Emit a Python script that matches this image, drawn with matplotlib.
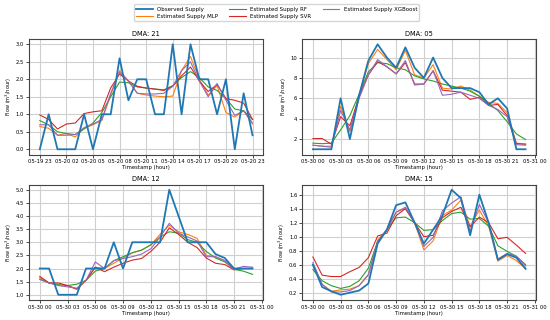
import matplotlib
matplotlib.use("Agg")
import matplotlib.pyplot as plt
import matplotlib.dates as mdates
import pandas as pd

series_names = ["Observed Supply", "Estimated Supply MLP", "Estimated Supply RF",
                "Estimated Supply SVR", "Estimated Supply XGBoost"]
colors = ["#1f77b4", "#ff7f0e", "#2ca02c", "#d62728", "#9467bd"]

# DMA 21 (05-19 23 .. 05-20 23)
dma21_obs = [0, 1.0, 0, 0, 0, 1.0, 0, 1.0, 1.0, 2.6, 1.4, 2.0, 2.0, 1.0, 1.0, 3.0, 1.0, 3.0, 2.0, 2.0, 1.0, 2.0, 0.0, 1.6, 0.4]
dma21_mlp = [0.65, 0.6, 0.4, 0.45, 0.35, 0.6, 0.7, 0.82, 1.55, 2.25, 1.95, 1.6, 1.55, 1.52, 1.5, 1.52, 2.25, 2.65, 2.0, 1.55, 1.82, 1.05, 0.92, 1.1, 0.72]
dma21_rf = [0.82, 0.7, 0.5, 0.45, 0.42, 0.58, 0.75, 1.05, 1.5, 1.92, 1.9, 1.78, 1.75, 1.72, 1.7, 1.82, 2.05, 2.22, 2.05, 1.78, 1.68, 1.45, 1.15, 1.1, 0.85]
dma21_svr = [0.98, 0.85, 0.58, 0.72, 0.75, 1.02, 1.07, 1.1, 1.75, 2.15, 1.95, 1.8, 1.75, 1.72, 1.68, 1.8, 2.1, 2.35, 1.95, 1.65, 1.85, 1.45, 1.4, 1.32, 0.85]
dma21_xgb = [0.7, 0.7, 0.4, 0.4, 0.42, 0.62, 0.72, 0.85, 1.6, 2.2, 1.95, 1.6, 1.58, 1.58, 1.6, 1.8, 2.25, 2.5, 1.95, 1.5, 1.88, 1.4, 0.97, 1.1, 0.75]

# DMA 05 (05-30 00 .. 05-30 23)
dma05_obs = [1.0, 1.0, 1.0, 6.0, 2.0, 6.3, 9.7, 11.3, 10.0, 9.0, 11.0, 9.0, 8.0, 10.0, 8.0, 7.0, 7.0, 7.0, 6.6, 5.4, 6.0, 5.0, 1.0, 1.0]
dma05_mlp = [1.4, 1.3, 1.3, 5.2, 2.7, 6.3, 9.4, 10.8, 9.8, 8.8, 10.7, 8.3, 8.0, 9.3, 7.0, 6.9, 7.2, 6.8, 6.2, 5.6, 5.5, 4.6, 1.6, 1.5]
dma05_rf = [1.6, 1.55, 1.6, 2.9, 4.3, 6.4, 8.6, 9.5, 9.4, 9.0, 8.8, 8.2, 7.9, 7.7, 7.4, 7.2, 7.0, 6.7, 6.2, 5.5, 4.8, 3.7, 2.5, 1.95]
dma05_svr = [2.05, 2.05, 1.5, 4.2, 3.3, 6.2, 8.3, 9.6, 9.1, 8.4, 9.5, 7.4, 7.4, 8.7, 6.8, 6.7, 6.6, 5.9, 6.1, 5.3, 5.4, 4.3, 1.55, 1.5]
dma05_xgb = [1.4, 1.3, 1.2, 4.8, 2.9, 6.0, 8.3, 9.8, 9.1, 8.4, 9.7, 7.3, 7.4, 8.7, 6.3, 6.4, 6.6, 6.3, 6.0, 5.3, 4.9, 4.2, 1.45, 1.4]

# DMA 12
dma12_obs = [2.0, 2.0, 1.0, 1.0, 1.0, 2.0, 2.0, 2.0, 3.0, 2.0, 3.0, 3.0, 3.0, 3.0, 5.0, 4.0, 3.0, 3.0, 3.0, 2.55, 2.4, 2.0, 2.0, 2.0]
dma12_mlp = [1.65, 1.45, 1.4, 1.35, 1.2, 1.55, 2.05, 2.0, 2.2, 2.4, 2.6, 2.7, 2.9, 3.3, 3.65, 3.4, 3.3, 3.15, 2.5, 2.45, 2.3, 2.0, 2.0, 2.0]
dma12_rf = [1.6, 1.45, 1.38, 1.35, 1.4, 1.55, 1.9, 2.0, 2.3, 2.45, 2.6, 2.7, 2.9, 3.2, 3.4, 3.35, 3.1, 3.0, 2.65, 2.4, 2.25, 1.97, 1.9, 1.78]
dma12_svr = [1.7, 1.45, 1.45, 1.35, 1.22, 1.55, 2.05, 1.88, 2.05, 2.2, 2.32, 2.38, 2.65, 3.0, 3.55, 3.3, 3.0, 2.8, 2.4, 2.2, 2.15, 1.95, 2.0, 2.0]
dma12_xgb = [1.58, 1.45, 1.35, 1.3, 1.25, 1.55, 2.25, 2.0, 2.3, 2.38, 2.45, 2.55, 2.75, 3.2, 3.72, 3.35, 3.2, 3.05, 2.45, 2.45, 2.3, 1.97, 2.08, 2.05]

# DMA 15
dma15_obs = [0.6, 0.28, 0.22, 0.17, 0.2, 0.23, 0.33, 0.9, 1.1, 1.45, 1.49, 1.2, 0.9, 1.1, 1.3, 1.67, 1.55, 1.02, 1.6, 1.2, 0.67, 0.75, 0.7, 0.54]
dma15_mlp = [0.6, 0.32, 0.22, 0.24, 0.25, 0.3, 0.45, 0.95, 1.1, 1.35, 1.4, 1.2, 0.81, 0.94, 1.3, 1.38, 1.52, 1.15, 1.38, 1.15, 0.65, 0.73, 0.66, 0.54]
dma15_rf = [0.53, 0.37, 0.3, 0.26, 0.29, 0.37, 0.55, 0.93, 1.1, 1.27, 1.28, 1.2, 1.09, 1.1, 1.23, 1.33, 1.35, 1.25, 1.26, 1.15, 0.87, 0.79, 0.72, 0.6]
dma15_svr = [0.71, 0.45, 0.43, 0.43, 0.5, 0.56, 0.7, 1.01, 1.05, 1.3, 1.4, 1.2, 1.0, 1.02, 1.27, 1.36, 1.42, 1.14, 1.28, 1.2, 0.97, 0.99, 0.88, 0.76]
dma15_xgb = [0.63, 0.32, 0.21, 0.21, 0.23, 0.3, 0.46, 0.93, 1.1, 1.35, 1.42, 1.2, 0.86, 0.99, 1.37, 1.48, 1.57, 1.08, 1.46, 1.2, 0.68, 0.76, 0.72, 0.58]

panels = [
    ("DMA: 21", "2021-05-19 23:00", [dma21_obs, dma21_mlp, dma21_rf, dma21_svr, dma21_xgb]),
    ("DMA: 05", "2021-05-30 00:00", [dma05_obs, dma05_mlp, dma05_rf, dma05_svr, dma05_xgb]),
    ("DMA: 12", "2021-05-30 00:00", [dma12_obs, dma12_mlp, dma12_rf, dma12_svr, dma12_xgb]),
    ("DMA: 15", "2021-05-30 00:00", [dma15_obs, dma15_mlp, dma15_rf, dma15_svr, dma15_xgb]),
]

fig, axes = plt.subplots(2, 2, figsize=(5.5, 3.2), dpi=100)
fig.subplots_adjust(left=0.053, right=0.975, top=0.878, bottom=0.0625, wspace=0.167, hspace=0.26)

tick_fs = 3.8
handles = []
for ax, (title, start, data) in zip(axes.flat, panels):
    n = len(data[0])
    ts = pd.date_range(start, periods=n, freq="h")
    for i, (vals, name, c) in enumerate(zip(data, series_names, colors)):
        lw = 1.3 if i == 0 else 0.8
        h, = ax.plot(ts, vals, color=c, lw=lw, label=name, zorder=3 if i == 0 else 2)
        if len(handles) < 5:
            handles.append(h)
    if start.endswith("23:00"):
        ticks = ts[::3]
    else:
        ticks = pd.date_range(start, periods=9, freq="3h")
    ax.set_xticks(ticks)
    ax.xaxis.set_major_formatter(mdates.DateFormatter("%m-%d %H"))
    ax.set_title(title, fontsize=4.8, pad=2.5)
    ax.set_xlabel("Timestamp (hour)", fontsize=3.8, labelpad=0.5)
    ax.set_ylabel("Flow (m$^3$/hour)", fontsize=3.6, labelpad=1.5)
    ax.tick_params(labelsize=tick_fs, length=2, width=0.5, pad=1.5)
    ax.grid(True, color="#d0d0d0", lw=0.8)
    ax.set_axisbelow(True)
    for s in ax.spines.values():
        s.set_color("#444444")
        s.set_linewidth(0.8)

fig.legend(handles, series_names, loc="upper center", bbox_to_anchor=(0.503, 0.995), ncol=3,
           fontsize=4.0, handlelength=3.0, columnspacing=2.0, frameon=True,
           borderpad=0.4, labelspacing=0.35, edgecolor="#cccccc")

fig.savefig("out.png", dpi=100)
